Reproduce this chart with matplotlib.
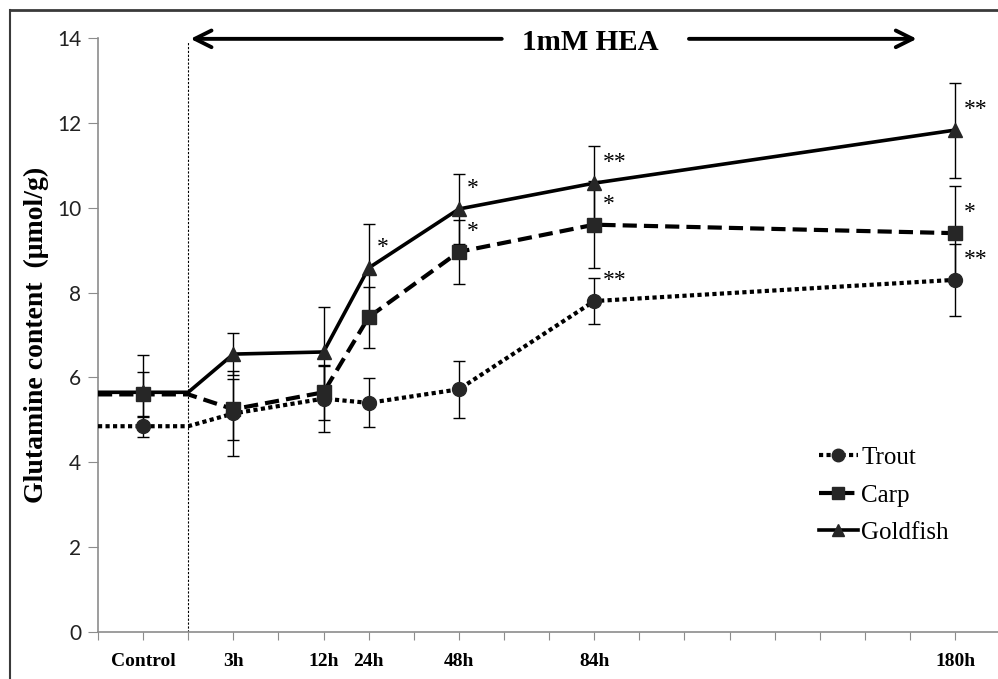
import numpy as np
import matplotlib
matplotlib.use('Agg')
import matplotlib.pyplot as plt
from matplotlib.lines import Line2D


# ──────────────────────────────────────────────────────────────────────
#  DATA  (glutamine content, µmol/g)
# ──────────────────────────────────────────────────────────────────────
# Excel-style category axis: 20 slots, most of them empty
X_SLOTS = ['', 'Control', '', '3h', '', '12h', '24h', '', '48h', '', '',
           '84h', '', '', '', '', '', '', '', '180h']
TIMES = ['Control', '3h', '12h', '24h', '48h', '84h', '180h']
TREATMENT_SLOT = 2          # dotted line where 1mM HEA starts

SERIES = ['Trout', 'Carp', 'Goldfish']

trout    = [4.85, 5.15, 5.50, 5.40, 5.72, 7.80, 8.30]
carp     = [5.60, 5.25, 5.65, 7.42, 8.96, 9.60, 9.40]
goldfish = [5.65, 6.55, 6.60, 8.58, 9.97, 10.58, 11.83]

trout_err    = [0.25, 1.00, 0.78, 0.58, 0.67, 0.55, 0.85]
carp_err     = [0.53, 0.72, 0.65, 0.72, 0.76, 1.03, 1.12]
goldfish_err = [0.87, 0.50, 1.07, 1.03, 0.83, 0.88, 1.12]

trout_sig    = ['', '', '', '', '', '**', '**']
carp_sig     = ['', '', '', '', '*', '*', '*']
goldfish_sig = ['', '', '', '*', '*', '**', '**']

Y_TICKS = [0, 2, 4, 6, 8, 10, 12, 14]


# ──────────────────────────────────────────────────────────────────────
#  STYLE
# ──────────────────────────────────────────────────────────────────────
SERIF = ['Liberation Serif', 'DejaVu Serif']
STYLE = {
    'Trout':    dict(ls=(0, (1, 0.8)), marker='o', ms=10, lw=3.0),
    'Carp':     dict(ls=(0, (3.4, 1.7)), marker='s', ms=10, lw=3.0),
    'Goldfish': dict(ls='-', marker='^', ms=10, lw=2.6),
}
values = {'Trout': trout, 'Carp': carp, 'Goldfish': goldfish}
errors = {'Trout': trout_err, 'Carp': carp_err, 'Goldfish': goldfish_err}
stars  = {'Trout': trout_sig, 'Carp': carp_sig, 'Goldfish': goldfish_sig}

pos = [X_SLOTS.index(t) for t in TIMES]
AX_GREY = '#8c8c8c'
MARK = '#262626'


fig = plt.figure(figsize=(9.98, 6.79), dpi=100)
ax = fig.add_axes([98 / 998, 47 / 679, 1 - 98 / 998, 594 / 679])

for name in SERIES:
    st = STYLE[name]
    y = values[name]
    # line runs from the axis start to the treatment slot at the control level
    xs = [0] + pos[:1] + [TREATMENT_SLOT] + pos[1:]
    ys = [y[0]] + y[:1] + [y[0]] + y[1:]
    ax.plot(xs, ys, color='black', ls=st['ls'], lw=st['lw'], zorder=3,
            solid_capstyle='butt', dash_capstyle='butt')
    ax.errorbar(pos, y, yerr=errors[name], fmt='none', ecolor='black',
                elinewidth=1.0, capsize=4, capthick=1.0, zorder=2)
    ax.plot(pos, y, ls='none', marker=st['marker'], ms=st['ms'],
            color=MARK, mec=MARK, zorder=4)
    for xp, yp, s in zip(pos, y, stars[name]):
        if s:
            ax.annotate(s, (xp, yp), xytext=(6, 7), textcoords='offset points',
                        ha='left', va='bottom', fontsize=17, family=SERIF)

# treatment start line
ax.plot([TREATMENT_SLOT, TREATMENT_SLOT], [0, 13.9], color='black',
        ls=(0, (2, 1.5)), lw=0.8, zorder=1)

# 1mM HEA arrow
ax.annotate('', xy=(2.05, 13.98), xytext=(8.95, 13.98),
            arrowprops=dict(arrowstyle='->', lw=2.8, color='black',
                            mutation_scale=30, shrinkA=0, shrinkB=0),
            annotation_clip=False)
ax.annotate('', xy=(18.15, 13.98), xytext=(13.1, 13.98),
            arrowprops=dict(arrowstyle='->', lw=2.8, color='black',
                            mutation_scale=30, shrinkA=0, shrinkB=0),
            annotation_clip=False)
ax.text(10.92, 13.9, '1mM HEA', ha='center', va='center', fontsize=21,
        fontweight='bold', family=SERIF)

# axes
ax.set_xlim(0, 19.95)
ax.set_ylim(0, 14)
ax.set_xticks(range(len(X_SLOTS)))
ax.set_xticklabels(X_SLOTS, fontsize=14, fontweight='bold', family=SERIF)
ax.set_yticks(Y_TICKS)
ax.set_yticklabels([str(v) for v in Y_TICKS], fontsize=15, family='Lato',
                   color='#222222')
for side in ('top', 'right'):
    ax.spines[side].set_visible(False)
for side in ('left', 'bottom'):
    ax.spines[side].set_color(AX_GREY)
    ax.spines[side].set_linewidth(1.2)
ax.tick_params(axis='x', length=6, width=0.8, color=AX_GREY, pad=9)
ax.tick_params(axis='y', length=7, width=0.8, color=AX_GREY, pad=5)
ax.set_ylabel('Glutamine content  (μmol/g)', fontsize=20, fontweight='bold',
              family=SERIF, labelpad=6)

# legend
handles = [Line2D([], [], color='black', ls=STYLE[n]['ls'], lw=STYLE[n]['lw'],
                  marker=STYLE[n]['marker'], ms=9, mfc=MARK, mec=MARK)
           for n in SERIES]
ax.legend(handles, SERIES, loc='upper left', bbox_to_anchor=(0.776, 0.35),
          frameon=False, handlelength=1.55, handletextpad=0.15,
          labelspacing=0.6, prop={'family': SERIF, 'size': 18})

# outer frame of the original picture
fig.add_artist(Line2D([10 / 998, 10 / 998], [0, 1 - 10 / 679],
                      color='#3a3a3a', lw=1.5, transform=fig.transFigure))
fig.add_artist(Line2D([10 / 998, 1], [1 - 10 / 679, 1 - 10 / 679],
                      color='#3a3a3a', lw=2.0, transform=fig.transFigure))

fig.savefig('out.png', dpi=100)
